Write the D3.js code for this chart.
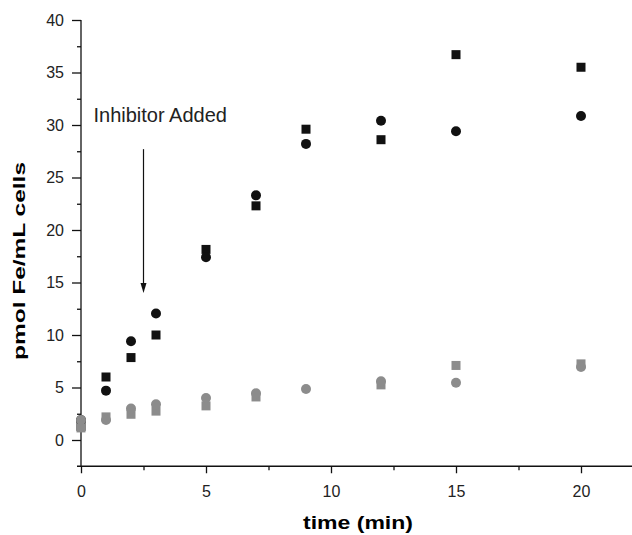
<!DOCTYPE html>
<html>
<head>
<meta charset="utf-8">
<script src="https://cdn.jsdelivr.net/npm/d3@7.9.0/dist/d3.min.js"></script>
<style>
  body { margin: 0; background: #fff; }
  svg { display: block; font-family: "Liberation Sans", Arial, sans-serif; }
</style>
</head>
<body>
<svg id="chart" width="632" height="535"></svg>
<script>
// time points (min)
const times = [0, 1, 2, 3, 5, 7, 9, 12, 15, 20];

// control (black)
const blackSquares = [1.3, 6.0, 7.85, 10.0, 18.15, 22.3, 29.6, 28.6, 36.7, 35.5];
const blackCircles = [1.9, 4.7, 9.4, 12.05, 17.4, 23.3, 28.2, 30.4, 29.4, 30.85];

// with inhibitor (grey) - no grey square visible at 9 min
const greySquareTimes = [0, 1, 2, 3, 5, 7, 12, 15, 20];
const greySquares = [1.15, 2.2, 2.45, 2.75, 3.25, 4.1, 5.25, 7.1, 7.25];
const greyCircles = [1.9, 1.9, 3.0, 3.4, 4.0, 4.45, 4.85, 5.6, 5.45, 6.95];

const xMajor = [0, 5, 10, 15, 20];
const xMinor = [2.5, 7.5, 12.5, 17.5];
const yMajor = [0, 5, 10, 15, 20, 25, 30, 35, 40];
const yMinor = [2.5, 7.5, 12.5, 17.5, 22.5, 27.5, 32.5, 37.5];

// annotation: arrow at 2.5 min from ~27.7 down to ~14
const arrowAt = 2.5, arrowFrom = 27.7, arrowTo = 14.0;
const noteText = 'Inhibitor Added';

const svg = d3.select('#chart');

const x = d3.scaleLinear().domain([0, 22]).range([81, 631]);
const y = d3.scaleLinear().domain([-2.5, 40]).range([466.25, 20]);

const black = '#111';
const grey = '#8c8c8c';

// axes
const gx = svg.append('g').attr('transform', `translate(0,${y(-2.5)})`);
gx.call(d3.axisBottom(x).tickValues(xMajor).tickSize(7).tickSizeOuter(0).tickPadding(12).tickFormat(d3.format('d')));
gx.append('g').call(d3.axisBottom(x).tickValues(xMinor).tickSize(4).tickFormat(''))
  .select('.domain').remove();
gx.select('.domain').attr('d', `M${x(0) - 4},0H${x(22) + 1}`);

const gy = svg.append('g').attr('transform', `translate(${x(0)},0)`);
gy.call(d3.axisLeft(y).tickValues(yMajor).tickSize(9).tickSizeOuter(0).tickPadding(8).tickFormat(d3.format('d')));
gy.append('g').call(d3.axisLeft(y).tickValues(yMinor).tickSize(4).tickFormat(''))
  .select('.domain').remove();
gy.select('.domain').attr('d', `M0,${y(40)}V${y(-2.5)}`);

svg.selectAll('.tick line, .domain').attr('stroke', '#111').attr('stroke-width', 1.3);
svg.selectAll('.tick text').attr('font-size', 16).attr('fill', '#222')
  .attr('font-family', '"Liberation Sans", Arial, sans-serif');

// axis titles
svg.append('text')
  .attr('x', 358).attr('y', 529)
  .attr('text-anchor', 'middle')
  .attr('font-size', 19).attr('font-weight', 'bold')
  .attr('textLength', 110).attr('lengthAdjust', 'spacingAndGlyphs')
  .text('time (min)');

svg.append('text')
  .attr('transform', 'translate(25,261) rotate(-90)')
  .attr('text-anchor', 'middle')
  .attr('font-size', 17).attr('font-weight', 'bold')
  .attr('textLength', 198).attr('lengthAdjust', 'spacingAndGlyphs')
  .text('pmol Fe/mL cells');

// annotation
svg.append('text')
  .attr('x', x(0.5)).attr('y', y(30.3))
  .attr('font-size', 20).attr('fill', '#222')
  .text(noteText);

const ax = x(arrowAt);
svg.append('line')
  .attr('x1', ax).attr('x2', ax)
  .attr('y1', y(arrowFrom)).attr('y2', y(arrowTo) - 8)
  .attr('stroke', '#111').attr('stroke-width', 1.2);
svg.append('path')
  .attr('d', `M${ax - 3},${y(arrowTo) - 10}L${ax + 3},${y(arrowTo) - 10}L${ax},${y(arrowTo)}Z`)
  .attr('fill', '#111');

// markers
const sq = 9;
const r = 5;

function squares(ts, vals, color) {
  svg.append('g').selectAll('rect')
    .data(ts.map((t, i) => [t, vals[i]]))
    .join('rect')
    .attr('x', d => x(d[0]) - sq / 2)
    .attr('y', d => y(d[1]) - sq / 2)
    .attr('width', sq).attr('height', sq)
    .attr('fill', color);
}

function circles(ts, vals, color) {
  svg.append('g').selectAll('circle')
    .data(ts.map((t, i) => [t, vals[i]]))
    .join('circle')
    .attr('cx', d => x(d[0]))
    .attr('cy', d => y(d[1]))
    .attr('r', r)
    .attr('fill', color);
}

squares(times, blackSquares, black);
circles(times, blackCircles, black);
squares(greySquareTimes, greySquares, grey);
circles(times, greyCircles, grey);
</script>
</body>
</html>
